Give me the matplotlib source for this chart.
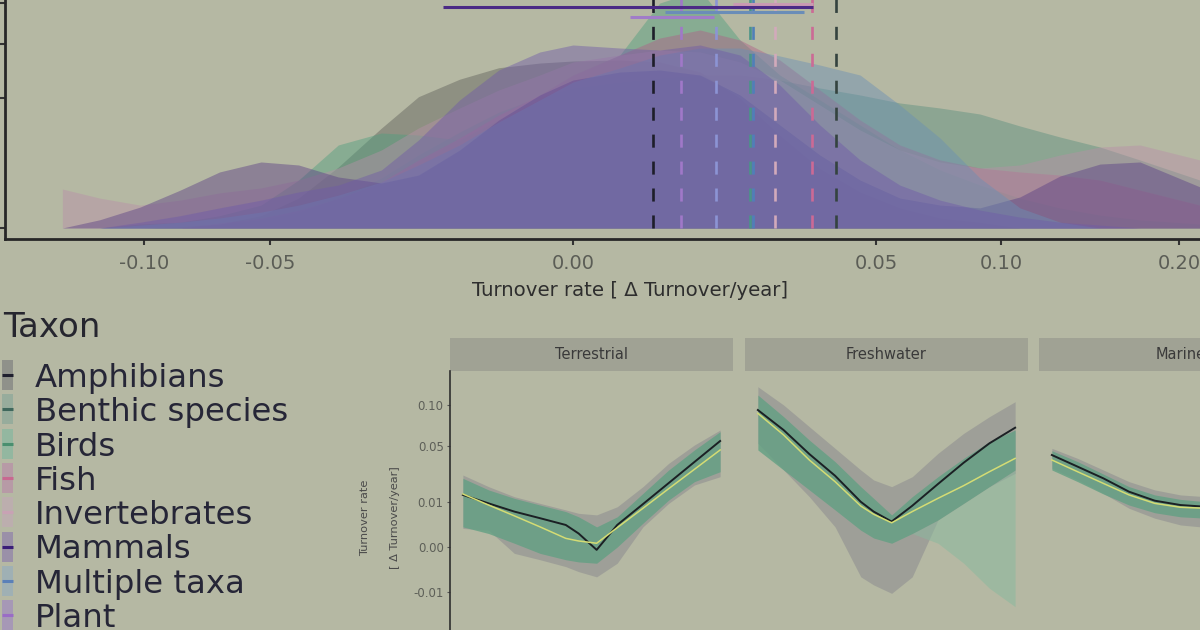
import numpy as np
import matplotlib
matplotlib.use("Agg")
import matplotlib.pyplot as plt
from matplotlib.patches import Rectangle

plt.rcParams['font.family'] = ['DejaVu Sans']
plt.rcParams['lines.scale_dashes'] = False

BG = '#b5b8a3'

# ---------------- data: top panel (densities of turnover rate) ----------------
taxa = ['Amphibians', 'Benthic species', 'Birds', 'Fish', 'Invertebrates',
        'Mammals', 'Multiple taxa', 'Plant']
fill_colors = ['#5f605a', '#5a8f7e', '#4f9f7e', '#b06088', '#b890a8',
               '#5a3f85', '#6a8fb5', '#6f5aa8']
key_colors = ['#8f918a', '#97ac9c', '#93b7a0', '#b79aa6', '#bcaeae',
              '#9a90a8', '#9fb0b4', '#a698b6']
line_colors = ['#1f1f2e', '#3f675c', '#4a8f6f', '#c86890', '#c8a2b4',
               '#3a1d78', '#5a80b8', '#9a6cc6']

turnover_grid = [-0.142, -0.122, -0.102, -0.084, -0.068, -0.053, -0.041, -0.030,
                 -0.020, -0.013, -0.007, -0.003, -0.0006, 0.0, 0.0012, 0.0041,
                 0.0088, 0.0152, 0.0233, 0.0332, 0.0449, 0.0582, 0.0734, 0.0902,
                 0.1088, 0.1292, 0.1513, 0.1751, 0.2141]

dens_amphibians = [0, 0, 0, 0.001, 0.01, 0.09, 0.53, 2.2, 5.9, 10.2, 13.1, 15.2, 16.1, 16.5,
                   16.7, 16.3, 14.4, 10.0, 5.1, 2.1, 0.77, 0.24, 0.06, 0.02, 0.0, 0, 0, 0, 0]
dens_benthic = [0, 0, 0.0, 0.0, 0.01, 0.04, 0.15, 0.53, 1.48, 3.15, 5.45, 7.96, 10.15, 11.6,
                12.6, 13.3, 13.85, 13.85, 12.96, 11.6, 10.47, 9.25, 8.52, 7.69, 6.16, 4.9,
                3.88, 2.74, 1.36]
dens_birds = [0, 0.0, 0.01, 0.02, 0.09, 0.31, 1.36, 4.08, 5.34, 5.12, 4.58, 6.9, 10.47, 13.85,
              17.71, 29.95, 33.52, 20.91, 13.85, 9.7, 6.28, 3.6, 1.99, 1.09, 0.53, 0.24, 0.1,
              0.04, 0.01]
dens_fish = [0, 0, 0.0, 0.0, 0.015, 0.06, 0.19, 0.53, 1.25, 2.74, 4.79, 7.56, 10.47, 13.85,
             17.71, 21.36, 23.2, 20.91, 16.7, 11.27, 6.9, 4.08, 2.74, 2.13, 1.86, 1.66, 1.36,
             0.85, 0.31]
dens_invertebrates = [0.9, 0.53, 0.31, 0.46, 0.73, 0.95, 1.36, 2.13, 3.6, 5.92, 8.52, 11.27,
                      13.85, 16.31, 17.71, 18.75, 18.33, 16.31, 12.96, 8.95, 5.68, 3.6, 2.58,
                      2.13, 2.35, 3.15, 3.88, 4.08, 2.74]
dens_mammals = [0.0, 0.04, 0.26, 0.85, 1.86, 2.58, 2.35, 1.54, 1.2, 1.66, 3.6, 6.9, 10.47,
                12.96, 14.4, 14.77, 13.85, 10.47, 6.28, 3.15, 1.36, 0.53, 0.31, 0.24, 0.57,
                1.6, 2.42, 2.58, 1.0]
dens_multiple = [0, 0.0, 0.005, 0.02, 0.06, 0.15, 0.31, 0.64, 1.25, 2.35, 4.08, 6.65, 9.7,
                 12.61, 15.15, 17.71, 19.17, 19.17, 17.51, 15.72, 13.85, 8.95, 4.79, 1.48,
                 0.24, 0.02, 0.0, 0, 0]
dens_plant = [0, 0.0, 0.02, 0.09, 0.24, 0.46, 0.77, 1.09, 1.99, 4.58, 9.7, 14.77, 18.33,
              19.82, 19.17, 18.75, 19.82, 17.71, 12.1, 6.28, 2.74, 1.09, 0.46, 0.19, 0.07,
              0.02, 0.005, 0.0, 0.0]
densities = [dens_amphibians, dens_benthic, dens_birds, dens_fish, dens_invertebrates,
             dens_mammals, dens_multiple, dens_plant]

# medians (dashed lines)
median_rate = [0.0035, 0.0377, 0.0171, 0.0311, 0.0222, 0.0111, 0.0177, 0.0064]
median_colors = ['#1e1e2a', '#34433f', '#4a9488', '#cc6a95', '#d2aabb', '#8c94d4',
                 '#4f7fb8', '#a078c8']

# intervals at the top
ci_taxa = ['Fish', 'Mammals', 'Multiple taxa', 'Plant']
ci_low = [0.0139, -0.0092, 0.0046, 0.0018]
ci_high = [0.0314, 0.0314, 0.0291, 0.0108]
ci_level = [29.7, 28.9, 27.6, 26.3]
ci_colors = ['#c99ab2', '#4b2a85', '#6a8db8', '#a07cc8']

x_ticks = [-0.10, -0.05, 0.00, 0.05, 0.10, 0.20]
x_ticklabels = ['-0.10', '-0.05', '0.00', '0.05', '0.10', '0.20']

# ---------------- data: bottom facets ----------------
facets = ['Terrestrial', 'Freshwater', 'Marine']
facet_x = [0, 0.1, 0.2, 0.3, 0.4, 0.45, 0.52, 0.6, 0.7, 0.8, 0.9, 1.0]

terr_observed = [0.0134, 0.0094, 0.0062, 0.0041, 0.0024, 0.0009, -0.00004, 0.0024, 0.0091, 0.0202, 0.0357, 0.0555]
terr_fit = [0.0139, 0.0087, 0.0048, 0.0020, 0.00037, 0.00018, 0.00007, 0.00185, 0.0074, 0.0168, 0.0298, 0.0465]
terr_boot_hi = [0.0233, 0.0161, 0.0117, 0.0087, 0.0062, 0.0045, 0.0020, 0.0045, 0.0142, 0.0293, 0.0465, 0.0657]
terr_boot_lo = [0.0020, 0.0009, 0.00007, -0.0002, -0.0008, -0.0011, -0.0013, 0.0, 0.0028, 0.0109, 0.0211, 0.0280]
terr_null_hi = [0.0256, 0.0180, 0.0125, 0.0094, 0.0068, 0.0056, 0.0051, 0.0080, 0.0180, 0.0346, 0.0514, 0.0676]
terr_null_lo = [0.0017, 0.0014, -0.0002, -0.0008, -0.0019, -0.0030, -0.0044, -0.0013, 0.0020, 0.0094, 0.0190, 0.0244]

fresh_observed = [0.0927, 0.0676, 0.0427, 0.0251, 0.0101, 0.0062, 0.0032, 0.0084, 0.0196, 0.0351, 0.0531, 0.0703]
fresh_fit = [0.0882, 0.0620, 0.0374, 0.0211, 0.0083, 0.0053, 0.0029, 0.0062, 0.0117, 0.0186, 0.0280, 0.0388]
fresh_boot_hi = [0.1141, 0.0839, 0.0565, 0.0360, 0.0180, 0.0117, 0.0051, 0.0125, 0.0244, 0.0388, 0.0548, 0.0676]
fresh_boot_lo = [0.0465, 0.0293, 0.0161, 0.0068, 0.0014, 0.0004, 0.00007, 0.0009, 0.0036, 0.0094, 0.0180, 0.0293]
fresh_fan_lo = [0.0465, 0.0293, 0.0161, 0.0068, 0.0014, 0.0004, 0.00007, 0.0009, 0.00007, -0.0013, -0.0084, -0.0176]
fresh_null_hi = [0.1269, 0.0996, 0.0715, 0.0481, 0.0293, 0.0222, 0.0180, 0.0244, 0.0433, 0.0638, 0.0839, 0.1043]
fresh_null_lo = [0.0531, 0.0293, 0.0125, 0.0020, -0.0044, -0.0071, -0.0106, -0.0044, 0.0036, 0.0094, 0.0180, 0.0268]

marine_x = [0, 0.1, 0.2, 0.3, 0.4, 0.5, 0.6]
marine_observed = [0.0418, 0.0319, 0.0233, 0.0151, 0.0106, 0.0087, 0.0080]
marine_fit = [0.0374, 0.0280, 0.0200, 0.0134, 0.0094, 0.0078, 0.0074]
marine_boot_hi = [0.0458, 0.0360, 0.0263, 0.0180, 0.0134, 0.0112, 0.0101]
marine_boot_lo = [0.0293, 0.0211, 0.0139, 0.0087, 0.0058, 0.0045, 0.0041]
marine_null_hi = [0.0481, 0.0388, 0.0293, 0.0211, 0.0161, 0.0134, 0.0125]
marine_null_lo = [0.0306, 0.0222, 0.0142, 0.0074, 0.0041, 0.0024, 0.0019]

facet_y_ticks = [-0.01, 0.00, 0.01, 0.05, 0.10]
facet_y_ticklabels = ['-0.01', '0.00', '0.01', '0.05', '0.10']


def ssqrt(v):
    v = np.asarray(v, dtype=float)
    return np.sign(v) * np.sqrt(np.abs(v))


def ssq(v):
    v = np.asarray(v, dtype=float)
    return np.sign(v) * v * v


W, H = 1200, 630
fig = plt.figure(figsize=(12, 6.3), dpi=100)
fig.patch.set_facecolor(BG)


def px_axes(x0, y0, x1, y1):
    """axes from pixel box (top-left origin)"""
    return fig.add_axes([x0 / W, (H - y1) / H, (x1 - x0) / W, (y1 - y0) / H])


# ---------------- top density panel ----------------
ax = px_axes(5, 0, 1256, 239)
ax.set_facecolor('none')
ax.set_xscale('function', functions=(ssqrt, ssq))
ax.set_yscale('function', functions=(ssqrt, ssq))

for dens, fc in zip(densities, fill_colors):
    ax.fill_between(turnover_grid, 0, dens, color=fc, alpha=0.45, lw=0)

for m, c in zip(median_rate, median_colors):
    ax.plot([m, m], [0, 31], color=c, lw=1.9, linestyle=(0, (9.4, 10.0)),
            solid_capstyle='butt', dash_capstyle='butt')

for lo, hi, lv, c in zip(ci_low, ci_high, ci_level, ci_colors):
    ax.plot([lo, hi], [lv, lv], color=c, lw=2.2, solid_capstyle='butt')

ax.set_xlim(-0.1757, 0.2541)
ax.set_ylim(-0.0716, 30.76)
for s in ['top', 'right']:
    ax.spines[s].set_visible(False)
for s in ['left', 'bottom']:
    ax.spines[s].set_color('#272727')
    ax.spines[s].set_linewidth(2.0)
ax.set_xticks(x_ticks)
ax.set_xticklabels(x_ticklabels)
ax.set_yticks([0, 10, 20, 30])
ax.tick_params(axis='x', length=4.5, width=1.5, color='#333333', labelsize=14,
               labelcolor='#5b5d56', pad=6)
ax.tick_params(axis='y', length=3.5, width=1.5, color='#333333', labelleft=False)
ax.set_xlabel('Turnover rate [ \u0394 Turnover/year]', fontsize=14.2, color='#2e2e2e',
              labelpad=6)

# ---------------- bottom facets ----------------
facet_boxes = [(450, 733), (745, 1028), (1039, 1322)]
facet_series = [
    (facet_x, terr_observed, terr_fit, terr_boot_hi, terr_boot_lo, terr_boot_lo, terr_null_hi, terr_null_lo),
    (facet_x, fresh_observed, fresh_fit, fresh_boot_hi, fresh_boot_lo, fresh_fan_lo, fresh_null_hi, fresh_null_lo),
    (marine_x, marine_observed, marine_fit, marine_boot_hi, marine_boot_lo, marine_boot_lo, marine_null_hi, marine_null_lo),
]
for i, (name, (x0, x1), ser) in enumerate(zip(facets, facet_boxes, facet_series)):
    fx, obs, fit, bhi, blo, fanlo, nhi, nlo = ser
    a = px_axes(x0, 371, x1, 640)
    a.set_facecolor('none')
    a.set_yscale('function', functions=(ssqrt, ssq))
    a.fill_between(fx, nlo, nhi, color='#9c9d97', alpha=0.9, lw=0)
    a.fill_between(fx, fanlo, blo, color='#8bb89e', alpha=0.55, lw=0)
    a.fill_between(fx, blo, bhi, color='#62a083', alpha=0.8, lw=0)
    a.plot(fx, obs, color='#1b2024', lw=1.4)
    a.plot(fx, fit, color='#d4dc74', lw=1.1)
    a.set_xlim(-0.05, 1.05)
    a.set_ylim(-0.0427, 0.153)
    for s in ['top', 'right', 'bottom']:
        a.spines[s].set_visible(False)
    a.set_xticks([])
    if i == 0:
        a.spines['left'].set_color('#2e2e2e')
        a.spines['left'].set_linewidth(1.2)
        a.set_yticks(facet_y_ticks)
        a.set_yticklabels(facet_y_ticklabels)
        a.tick_params(axis='y', length=2.5, width=0.8, color='#555555', labelsize=8.5,
                      labelcolor='#5d5f58', pad=2)
    else:
        a.spines['left'].set_visible(False)
        a.set_yticks([])
    sh = 33 / 269
    a.add_patch(Rectangle((0, 1.0), 1, sh, transform=a.transAxes, clip_on=False,
                          facecolor='#a0a294', edgecolor='none'))
    a.text(0.5, 1.0 + sh / 2, name, transform=a.transAxes, ha='center', va='center',
           fontsize=10.5, color='#3a3a3a', clip_on=False)

fig.text(365 / W, (H - 518) / H, 'Turnover rate', rotation=90, ha='center', va='center',
         fontsize=8.2, color='#4a4a4a')
fig.text(395 / W, (H - 518) / H, '[ \u0394 Turnover/year]', rotation=90, ha='center',
         va='center', fontsize=8.2, color='#4a4a4a')

# ---------------- legend ----------------
lg = fig.add_axes([0, 0, 1, 1])
lg.set_facecolor('none')
lg.set_xlim(0, W)
lg.set_ylim(H, 0)
lg.axis('off')
lg.text(3, 337, 'Taxon', fontsize=24.5, color='#26262f', va='baseline', ha='left')
for i, (t, kc, lc) in enumerate(zip(taxa, key_colors, line_colors)):
    yc = 375 + 34.3 * i
    lg.add_patch(Rectangle((2, yc - 15), 11, 30, facecolor=kc, edgecolor='none'))
    lg.plot([2, 13], [yc, yc], color=lc, lw=2.2, solid_capstyle='butt')
    lg.text(35, yc + 12, t, fontsize=23.3, color='#262637', va='baseline', ha='left')

fig.savefig('out.png', dpi=100, facecolor=BG)
